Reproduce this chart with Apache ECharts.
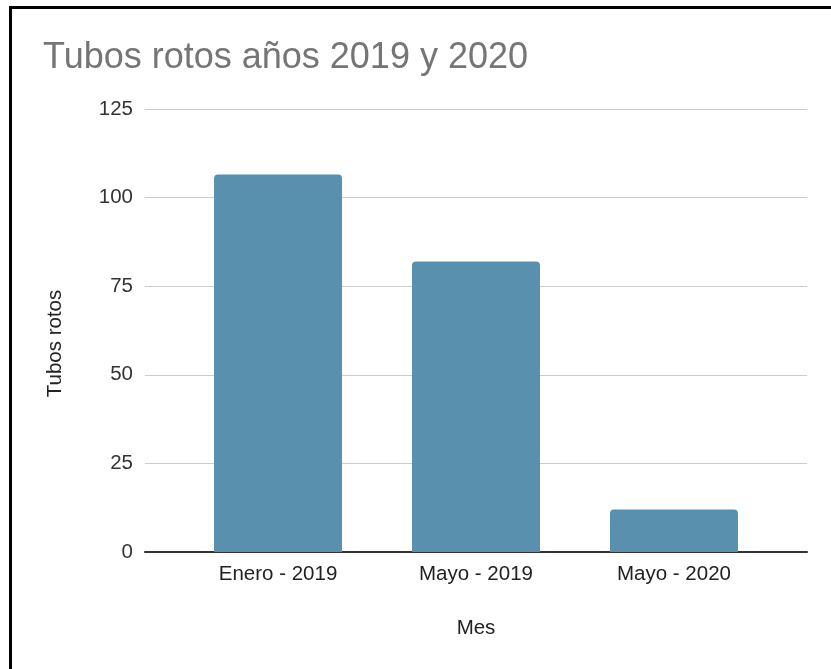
<!DOCTYPE html>
<html>
<head>
<meta charset="utf-8">
<title>Tubos rotos</title>
<script src="https://cdn.jsdelivr.net/npm/echarts@6/dist/echarts.min.js"></script>
<style>
  html, body { margin: 0; padding: 0; background: #fff; }
  #main { width: 831px; height: 669px; }
  .frame {
    position: absolute; left: 9px; top: 6px; width: 822px; height: 663px;
    border-top: 3px solid #000; border-left: 3px solid #000;
    box-sizing: border-box; pointer-events: none;
  }
</style>
</head>
<body>
<div id="main"></div>
<div class="frame"></div>
<script>
// datos
const meses = ['Enero - 2019', 'Mayo - 2019', 'Mayo - 2020'];
const tubosRotos = [106.5, 82, 12];
const yTicks = [0, 25, 50, 75, 100, 125];

const fuente = 'Liberation Sans, Arial, sans-serif';
const chart = echarts.init(document.getElementById('main'));

const option = {
  animation: false,
  title: {
    text: 'Tubos rotos años 2019 y 2020',
    left: 38,
    top: 35,
    textStyle: {
      fontFamily: fuente,
      fontSize: 36,
      fontWeight: 'normal',
      color: '#757575'
    }
  },
  grid: { left: 145, right: 24, top: 109, bottom: 117 },
  xAxis: {
    type: 'value',
    min: -0.672,
    max: 2.672,
    name: 'Mes',
    nameLocation: 'middle',
    nameGap: 66,
    nameTextStyle: { fontFamily: fuente, fontSize: 20.5, color: '#222' },
    axisLine: { show: true, lineStyle: { color: '#333', width: 2 } },
    axisTick: { show: false },
    splitLine: { show: false },
    axisLabel: {
      customValues: meses.map((m, i) => i),
      formatter: v => meses[Math.round(v)],
      margin: 12,
      fontFamily: fuente,
      fontSize: 20.5,
      color: '#222'
    }
  },
  yAxis: {
    type: 'value',
    min: yTicks[0],
    max: yTicks[yTicks.length - 1],
    interval: 25,
    name: 'Tubos rotos',
    nameLocation: 'middle',
    nameGap: 79,
    nameTextStyle: { fontFamily: fuente, fontSize: 20.5, color: '#222', padding: [0, 26, 0, 0] },
    axisLine: { show: false },
    axisTick: { show: false },
    axisLabel: {
      margin: 12,
      fontFamily: fuente,
      fontSize: 20.5,
      color: '#333'
    },
    splitLine: { lineStyle: { color: '#cccccc', width: 1 } }
  },
  series: [{
    type: 'bar',
    barWidth: 128,
    data: tubosRotos.map((v, i) => [i, v]),
    itemStyle: { color: '#5990ae', borderRadius: [4, 4, 0, 0] }
  }]
};

chart.setOption(option);
</script>
</body>
</html>
